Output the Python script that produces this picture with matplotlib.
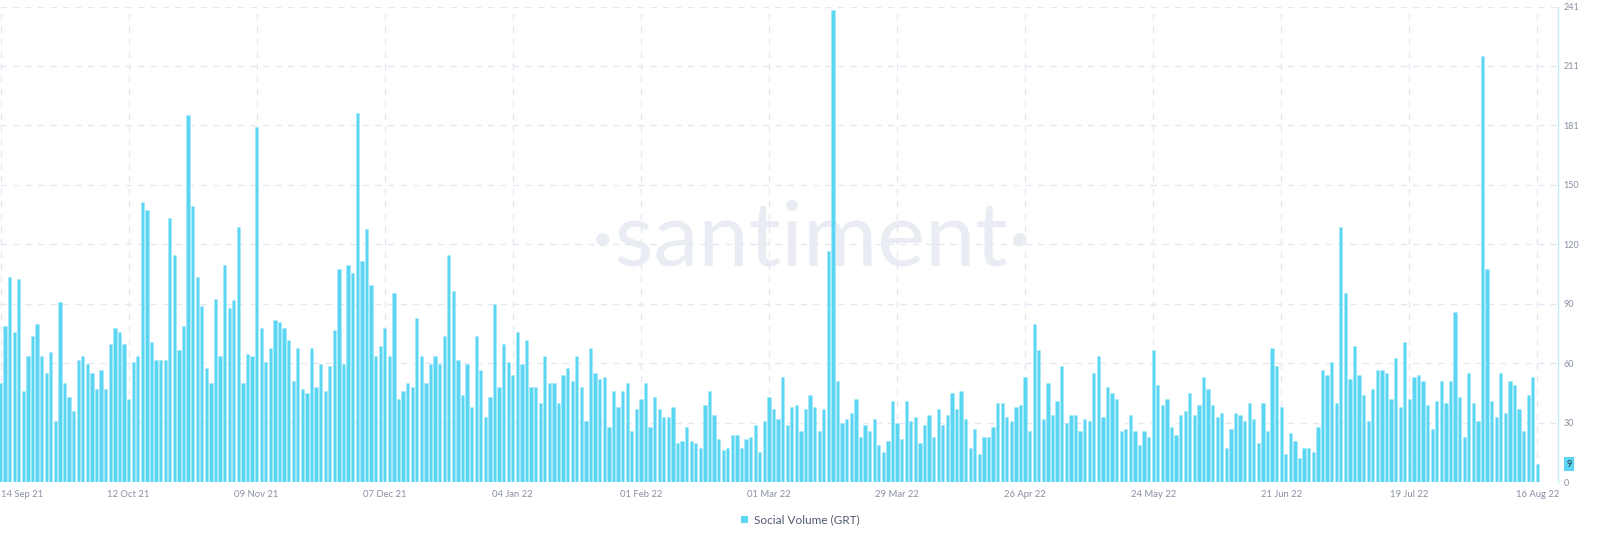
import matplotlib
matplotlib.use("Agg")
import matplotlib.pyplot as plt
import matplotlib.dates as mdates
from matplotlib.patches import Patch
from matplotlib import font_manager
import pandas as pd
import numpy as np

# ---- data ----
start_date = "2021-09-14"
social_volume = [
    50, 79, 104, 76, 103, 46, 64, 74, 80, 64, 55, 66, 31, 91, 50, 43, 36, 62, 64, 60, 55, 47, 57, 47, 70, 78, 76, 70, 42,
    61, 64, 142, 138, 71, 62, 62, 62, 134, 115, 67, 79, 186, 140, 104, 89, 58, 50, 93, 64, 110, 88, 92, 129, 50, 65, 64, 180,
    78, 61, 68, 82, 81, 78, 72, 51, 68, 47, 45, 68, 48, 60, 46, 59, 77, 108, 60, 110, 106, 187, 112, 128, 100, 64, 69, 78,
    64, 96, 42, 46, 50, 48, 83, 64, 50, 60, 64, 60, 74, 115, 97, 62, 44, 60, 38, 74, 57, 33, 43, 90, 48, 70, 61, 54,
    76, 60, 72, 48, 48, 40, 64, 50, 50, 40, 54, 58, 51, 64, 48, 31, 68, 55, 52, 53, 28, 46, 38, 46, 50, 26, 37, 42,
    50, 28, 43, 37, 33, 33, 38, 20, 21, 28, 21, 20, 17, 39, 46, 34, 22, 16, 17, 24, 24, 17, 22, 23, 29, 15, 31, 43,
    37, 32, 53, 29, 38, 39, 26, 37, 44, 38, 26, 37, 117, 239, 51, 30, 32, 35, 42, 23, 29, 26, 32, 19, 15, 21, 41, 30,
    22, 41, 31, 33, 20, 29, 34, 23, 37, 29, 34, 45, 37, 46, 32, 17, 27, 14, 23, 23, 28, 40, 40, 33, 31, 38, 39, 53,
    26, 80, 67, 32, 50, 34, 41, 59, 30, 34, 34, 26, 32, 31, 55, 64, 33, 48, 45, 42, 26, 27, 34, 26, 19, 26, 23, 67,
    49, 39, 42, 28, 24, 34, 36, 45, 34, 39, 53, 47, 39, 33, 35, 17, 27, 35, 34, 31, 40, 32, 20, 40, 26, 68, 59, 38,
    14, 25, 21, 12, 17, 17, 15, 28, 57, 54, 61, 40, 129, 96, 52, 69, 54, 44, 31, 47, 57, 57, 55, 42, 63, 38, 71, 42,
    53, 54, 51, 39, 27, 41, 51, 40, 51, 86, 43, 23, 55, 40, 31, 216, 108, 41, 33, 55, 35, 51, 49, 37, 26, 44, 53, 9,
]
tick_dates = ["2021-09-14", "2021-10-12", "2021-11-09", "2021-12-07", "2022-01-04",
              "2022-02-01", "2022-03-01", "2022-03-29", "2022-04-26", "2022-05-24",
              "2022-06-21", "2022-07-19", "2022-08-16"]
tick_labels = ["14 Sep 21", "12 Oct 21", "09 Nov 21", "07 Dec 21", "04 Jan 22",
               "01 Feb 22", "01 Mar 22", "29 Mar 22", "26 Apr 22", "24 May 22",
               "21 Jun 22", "19 Jul 22", "16 Aug 22"]
y_max = 241
y_tick_labels = ["0", "30", "60", "90", "120", "150", "181", "211", "241"]
series_name = "Social Volume (GRT)"

# ---- style ----
bar_color = "#5ad5f2"
grid_color = "#e4e7f1"
text_color = "#8a91a5"
axis_color = "#c9ecf7"

installed = {f.name for f in font_manager.fontManager.ttflist}
if "Liberation Sans Narrow" in installed:
    wm_family, wm_size = "Liberation Sans Narrow", 77
else:
    wm_family, wm_size = "Lato", 65

dates = pd.date_range(start_date, periods=len(social_volume), freq="D")
x = mdates.date2num(dates.to_pydatetime())

fig = plt.figure(figsize=(16, 5.41), dpi=100)
ax = fig.add_axes([0.0, 1 - 482 / 541, 1558 / 1600, (482 - 6.5) / 541])

ax.bar(x, social_volume, width=0.72, color=bar_color, edgecolor="#a9eafa",
       linewidth=0.4, zorder=3)

ax.set_ylim(0, y_max)
ax.set_xlim(x[0] - 0.11, x[0] + 340.5)

yt = np.linspace(0, y_max, len(y_tick_labels))
ax.set_yticks(yt)
ax.set_yticklabels(y_tick_labels)
ax.yaxis.tick_right()
ax.tick_params(axis="y", length=0, pad=4, labelsize=6.5, labelcolor=text_color)

xt = mdates.date2num(pd.to_datetime(tick_dates).to_pydatetime())
ax.set_xticks(xt)
ax.set_xticklabels(tick_labels)
ax.tick_params(axis="x", length=0, pad=6, labelsize=6.8, labelcolor=text_color)
for lab in ax.get_xticklabels():
    lab.set_fontfamily("Lato")
for lab in ax.get_yticklabels():
    lab.set_fontfamily("Lato")
ax.get_xticklabels()[0].set_horizontalalignment("left")

ax.grid(True, color=grid_color, linestyle=(0, (5, 5)), linewidth=0.9, zorder=0)

for s in ["top", "left", "bottom"]:
    ax.spines[s].set_visible(False)
ax.spines["right"].set_color(axis_color)
ax.spines["right"].set_linewidth(1.0)

# watermark
ax.text(0.5205, (482 - 265) / 475.5, "\u00b7santiment\u00b7", transform=ax.transAxes,
        ha="center", va="baseline", fontsize=wm_size, color="#eaecf4",
        fontfamily=wm_family, zorder=1)

# last value label
ax.annotate(str(social_volume[-1]), xy=(1.0, social_volume[-1]),
            xycoords=("axes fraction", "data"), xytext=(8, 0),
            textcoords="offset points", ha="center", va="center",
            fontsize=6.5, color="#2b3a4a", fontfamily="Lato",
            bbox=dict(boxstyle="square,pad=0.25", fc=bar_color, ec="none"),
            annotation_clip=False)

# legend
fig.legend(handles=[Patch(facecolor=bar_color, edgecolor="none", label=series_name)],
           loc="center", bbox_to_anchor=(0.5, 1 - 520 / 541), frameon=False,
           handlelength=0.6, handleheight=0.6, handletextpad=0.5,
           prop={"family": "Lato", "size": 8.5}, labelcolor="#505a6e")

fig.savefig("out.png", dpi=100)
